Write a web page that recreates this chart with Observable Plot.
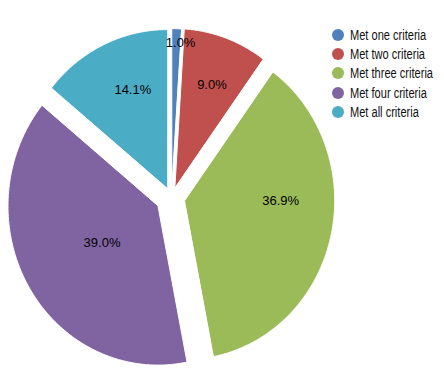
<!DOCTYPE html>
<html>
<head>
<meta charset="utf-8">
<script src="https://cdn.jsdelivr.net/npm/d3@7"></script>
<script src="https://cdn.jsdelivr.net/npm/@observablehq/plot@0.6"></script>
<style>
  html, body { margin: 0; padding: 0; background: #fff; }
  #wrap { position: relative; width: 444px; height: 385px; overflow: hidden; }
  #legend { position: absolute; left: 332px; top: 25px; font-family: "Liberation Sans", Arial, sans-serif; font-size: 14px; color: #111; }
  .row { display: flex; align-items: center; height: 19.3px; white-space: nowrap; }
  .sw { width: 12px; height: 12px; border-radius: 50%; margin-right: 6px; flex: none; }
  .tx { display: inline-block; transform-origin: left center; }
</style>
</head>
<body>
<div id="wrap"><div id="chart"></div><div id="legend"></div></div>
<script>
// ---- data ----
const categories = ["Met one criteria", "Met two criteria", "Met three criteria", "Met four criteria", "Met all criteria"];
const values = [1.0, 9.0, 36.9, 39.0, 14.1];
const labels = ["1.0%", "9.0%", "36.9%", "39.0%", "14.1%"];
const colors = ["#4F81BD", "#C0504D", "#9BBB59", "#8064A2", "#4BACC6"];

// ---- layout (not data) ----
const W = 444, H = 385;
const cx = 171, cy = 197, rx = 150, ry = 159;          // pixel geometry of the pie
const explode = [0.062, 0.066, 0.09, 0.105, 0.062];     // in radius units
const labelPlace = [[3.7, 0.91], [21, 0.69], [90, 0.64], [238, 0.44], [339.5, 0.66]]; // [deg, radius]

const arcs = d3.pie().sort(null).value(d => d)(values);
const pts = [];
const labelPts = [];
arcs.forEach((a, i) => {
  const mid = (a.startAngle + a.endAngle) / 2;
  const ox = explode[i] * Math.sin(mid), oy = explode[i] * Math.cos(mid);
  const cat = categories[i];
  pts.push({cat, u: ox, v: oy});
  const n = Math.max(4, Math.ceil((a.endAngle - a.startAngle) / (Math.PI / 360)));
  for (let k = 0; k <= n; ++k) {
    const t = a.startAngle + (a.endAngle - a.startAngle) * k / n;
    pts.push({cat, u: ox + Math.sin(t), v: oy + Math.cos(t)});
  }
  const la = labelPlace[i][0] * Math.PI / 180, lr = labelPlace[i][1];
  labelPts.push({cat, text: labels[i], u: ox + lr * Math.sin(la), v: oy + lr * Math.cos(la)});
});

const chart = Plot.plot({
  width: W, height: H,
  margin: 0,
  x: {domain: [-cx / rx, (W - cx) / rx], axis: null},
  y: {domain: [-(H - cy) / ry, cy / ry], axis: null},
  color: {domain: categories, range: colors},
  style: {fontFamily: "Liberation Sans, Arial, sans-serif", background: "#fff"},
  marks: [
    Plot.line(pts, {x: "u", y: "v", z: "cat", fill: "cat", stroke: "white", strokeWidth: 1, curve: "linear-closed"}),
    Plot.text(labelPts, {x: "u", y: "v", text: "text", fontSize: 13, fill: "#000"})
  ]
});
document.getElementById("chart").appendChild(chart);

const lg = document.getElementById("legend");
const txs = [];
categories.forEach((c, i) => {
  const row = document.createElement("div");
  row.className = "row";
  const sw = document.createElement("span");
  sw.className = "sw";
  sw.style.background = colors[i];
  const tx = document.createElement("span");
  tx.className = "tx";
  tx.textContent = c;
  row.appendChild(sw); row.appendChild(tx);
  lg.appendChild(row);
  txs.push(tx);
});
// condense legend text so the longest entry spans ~83px, like the reference
const widest = Math.max(...txs.map(t => t.getBoundingClientRect().width));
const k = 83 / widest;
txs.forEach(t => { t.style.transform = `scaleX(${k})`; });
</script>
</body>
</html>
